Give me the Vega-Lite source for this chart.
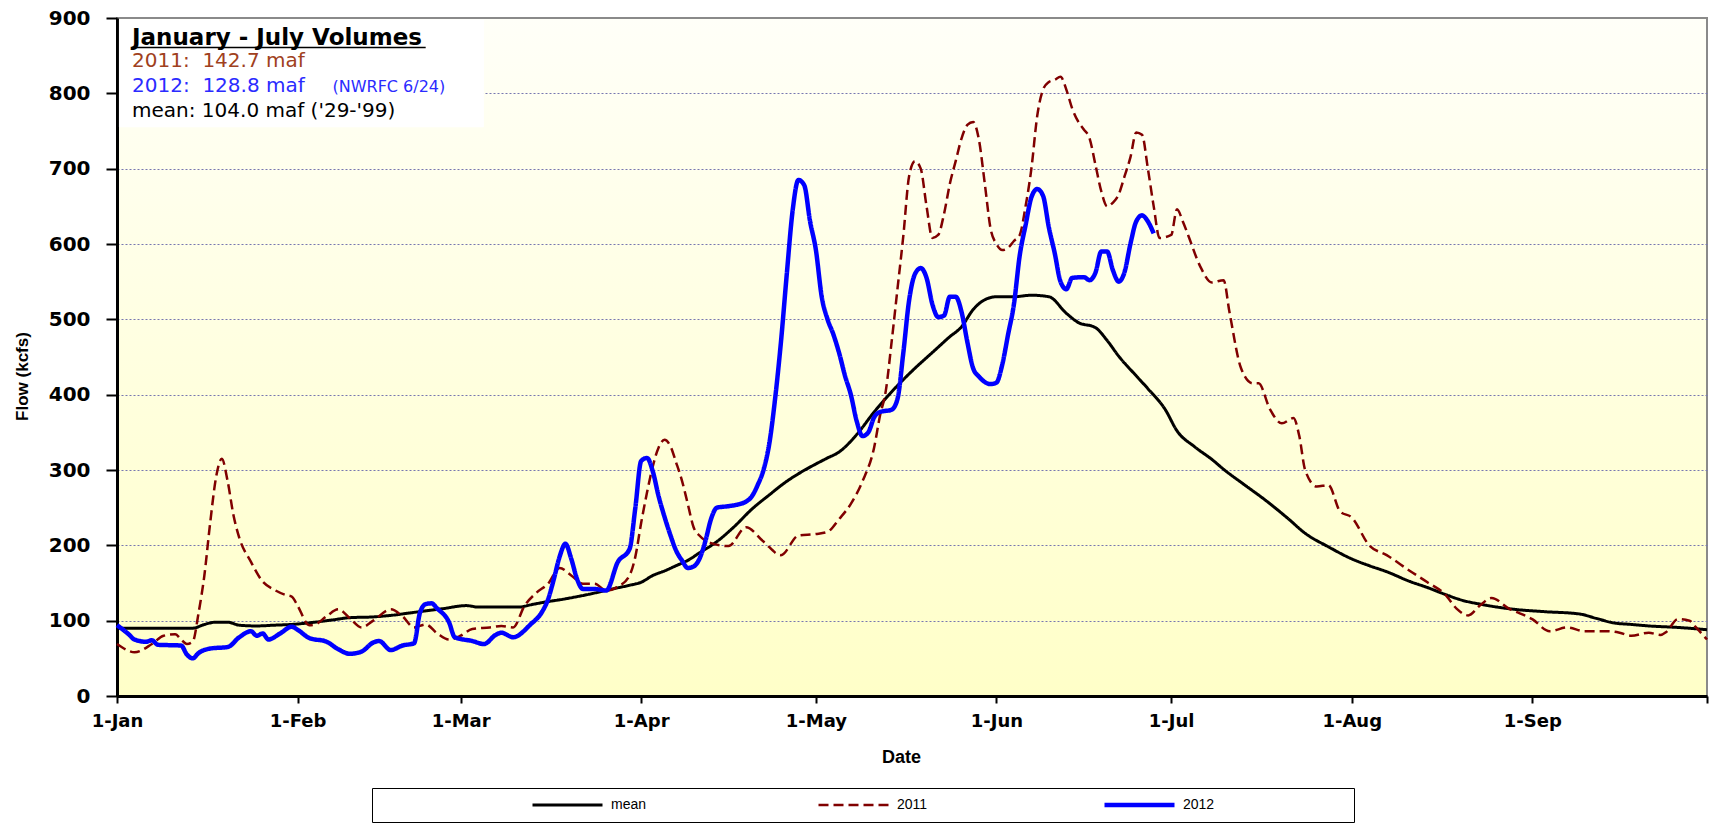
{
  "$schema": "https://vega.github.io/schema/vega-lite/v6.json",
  "width": 1590,
  "height": 678,
  "autosize": {"type": "none"},
  "padding": {"left": 117, "top": 18, "right": 6, "bottom": 129},
  "background": "white",
  "config": {
    "view": {
      "fill": {"gradient": "linear", "x1": 0, "y1": 0, "x2": 0, "y2": 1, "stops": [{"offset": 0, "color": "#fffff8"}, {"offset": 1, "color": "#ffffc8"}]},
      "stroke": "#8a8a8a",
      "strokeWidth": 2
    },
    "font": "DejaVu Sans"
  },
  "datasets": {
    "flows": [
      {"date": "2011-01-01", "series": "mean", "flow": 90},
      {"date": "2011-01-04", "series": "mean", "flow": 90},
      {"date": "2011-01-07", "series": "mean", "flow": 90},
      {"date": "2011-01-11", "series": "mean", "flow": 90},
      {"date": "2011-01-14", "series": "mean", "flow": 90},
      {"date": "2011-01-16", "series": "mean", "flow": 95},
      {"date": "2011-01-18", "series": "mean", "flow": 98},
      {"date": "2011-01-20", "series": "mean", "flow": 98},
      {"date": "2011-01-22", "series": "mean", "flow": 94},
      {"date": "2011-01-25", "series": "mean", "flow": 93},
      {"date": "2011-01-28", "series": "mean", "flow": 94},
      {"date": "2011-01-31", "series": "mean", "flow": 95},
      {"date": "2011-02-04", "series": "mean", "flow": 98},
      {"date": "2011-02-07", "series": "mean", "flow": 101},
      {"date": "2011-02-10", "series": "mean", "flow": 104},
      {"date": "2011-02-14", "series": "mean", "flow": 105},
      {"date": "2011-02-17", "series": "mean", "flow": 107},
      {"date": "2011-02-21", "series": "mean", "flow": 111},
      {"date": "2011-02-24", "series": "mean", "flow": 114},
      {"date": "2011-02-26", "series": "mean", "flow": 116},
      {"date": "2011-03-02", "series": "mean", "flow": 120},
      {"date": "2011-03-04", "series": "mean", "flow": 118},
      {"date": "2011-03-08", "series": "mean", "flow": 118},
      {"date": "2011-03-11", "series": "mean", "flow": 118},
      {"date": "2011-03-13", "series": "mean", "flow": 121},
      {"date": "2011-03-15", "series": "mean", "flow": 124},
      {"date": "2011-03-19", "series": "mean", "flow": 129},
      {"date": "2011-03-23", "series": "mean", "flow": 135},
      {"date": "2011-03-27", "series": "mean", "flow": 142},
      {"date": "2011-03-30", "series": "mean", "flow": 147},
      {"date": "2011-04-01", "series": "mean", "flow": 151},
      {"date": "2011-04-03", "series": "mean", "flow": 160},
      {"date": "2011-04-05", "series": "mean", "flow": 166},
      {"date": "2011-04-07", "series": "mean", "flow": 173},
      {"date": "2011-04-09", "series": "mean", "flow": 180},
      {"date": "2011-04-11", "series": "mean", "flow": 190},
      {"date": "2011-04-14", "series": "mean", "flow": 205},
      {"date": "2011-04-17", "series": "mean", "flow": 225},
      {"date": "2011-04-20", "series": "mean", "flow": 248},
      {"date": "2011-04-23", "series": "mean", "flow": 267},
      {"date": "2011-04-26", "series": "mean", "flow": 285},
      {"date": "2011-04-28", "series": "mean", "flow": 295},
      {"date": "2011-05-01", "series": "mean", "flow": 308},
      {"date": "2011-05-03", "series": "mean", "flow": 316},
      {"date": "2011-05-05", "series": "mean", "flow": 324},
      {"date": "2011-05-08", "series": "mean", "flow": 347},
      {"date": "2011-05-11", "series": "mean", "flow": 377},
      {"date": "2011-05-15", "series": "mean", "flow": 412},
      {"date": "2011-05-18", "series": "mean", "flow": 435},
      {"date": "2011-05-21", "series": "mean", "flow": 456},
      {"date": "2011-05-24", "series": "mean", "flow": 477},
      {"date": "2011-05-26", "series": "mean", "flow": 490},
      {"date": "2011-05-28", "series": "mean", "flow": 513},
      {"date": "2011-05-30", "series": "mean", "flow": 526},
      {"date": "2011-06-01", "series": "mean", "flow": 530},
      {"date": "2011-06-04", "series": "mean", "flow": 530},
      {"date": "2011-06-07", "series": "mean", "flow": 532},
      {"date": "2011-06-10", "series": "mean", "flow": 530},
      {"date": "2011-06-13", "series": "mean", "flow": 508},
      {"date": "2011-06-15", "series": "mean", "flow": 496},
      {"date": "2011-06-18", "series": "mean", "flow": 489},
      {"date": "2011-06-20", "series": "mean", "flow": 472},
      {"date": "2011-06-22", "series": "mean", "flow": 451},
      {"date": "2011-06-25", "series": "mean", "flow": 425},
      {"date": "2011-06-27", "series": "mean", "flow": 408},
      {"date": "2011-06-30", "series": "mean", "flow": 380},
      {"date": "2011-07-02", "series": "mean", "flow": 352},
      {"date": "2011-07-05", "series": "mean", "flow": 331},
      {"date": "2011-07-08", "series": "mean", "flow": 314},
      {"date": "2011-07-10", "series": "mean", "flow": 301},
      {"date": "2011-07-14", "series": "mean", "flow": 278},
      {"date": "2011-07-17", "series": "mean", "flow": 261},
      {"date": "2011-07-21", "series": "mean", "flow": 236},
      {"date": "2011-07-24", "series": "mean", "flow": 216},
      {"date": "2011-07-28", "series": "mean", "flow": 198},
      {"date": "2011-08-01", "series": "mean", "flow": 182},
      {"date": "2011-08-04", "series": "mean", "flow": 173},
      {"date": "2011-08-07", "series": "mean", "flow": 165},
      {"date": "2011-08-11", "series": "mean", "flow": 152},
      {"date": "2011-08-14", "series": "mean", "flow": 144},
      {"date": "2011-08-17", "series": "mean", "flow": 135},
      {"date": "2011-08-20", "series": "mean", "flow": 127},
      {"date": "2011-08-23", "series": "mean", "flow": 122},
      {"date": "2011-08-26", "series": "mean", "flow": 118},
      {"date": "2011-08-29", "series": "mean", "flow": 115},
      {"date": "2011-09-03", "series": "mean", "flow": 112},
      {"date": "2011-09-09", "series": "mean", "flow": 109},
      {"date": "2011-09-12", "series": "mean", "flow": 103},
      {"date": "2011-09-15", "series": "mean", "flow": 97},
      {"date": "2011-09-18", "series": "mean", "flow": 95},
      {"date": "2011-09-21", "series": "mean", "flow": 93},
      {"date": "2011-09-26", "series": "mean", "flow": 91},
      {"date": "2011-10-01", "series": "mean", "flow": 88},

      {"date": "2011-01-01", "series": "2011", "flow": 69},
      {"date": "2011-01-03", "series": "2011", "flow": 60},
      {"date": "2011-01-04", "series": "2011", "flow": 58},
      {"date": "2011-01-07", "series": "2011", "flow": 69},
      {"date": "2011-01-09", "series": "2011", "flow": 80},
      {"date": "2011-01-11", "series": "2011", "flow": 82},
      {"date": "2011-01-12", "series": "2011", "flow": 75},
      {"date": "2011-01-13", "series": "2011", "flow": 69},
      {"date": "2011-01-14", "series": "2011", "flow": 72},
      {"date": "2011-01-15", "series": "2011", "flow": 110},
      {"date": "2011-01-16", "series": "2011", "flow": 160},
      {"date": "2011-01-17", "series": "2011", "flow": 230},
      {"date": "2011-01-18", "series": "2011", "flow": 290},
      {"date": "2011-01-19", "series": "2011", "flow": 315},
      {"date": "2011-01-20", "series": "2011", "flow": 285},
      {"date": "2011-01-21", "series": "2011", "flow": 240},
      {"date": "2011-01-22", "series": "2011", "flow": 210},
      {"date": "2011-01-24", "series": "2011", "flow": 178},
      {"date": "2011-01-26", "series": "2011", "flow": 152},
      {"date": "2011-01-28", "series": "2011", "flow": 141},
      {"date": "2011-01-30", "series": "2011", "flow": 134},
      {"date": "2011-01-31", "series": "2011", "flow": 132},
      {"date": "2011-02-01", "series": "2011", "flow": 120},
      {"date": "2011-02-03", "series": "2011", "flow": 94},
      {"date": "2011-02-04", "series": "2011", "flow": 95},
      {"date": "2011-02-06", "series": "2011", "flow": 106},
      {"date": "2011-02-08", "series": "2011", "flow": 115},
      {"date": "2011-02-10", "series": "2011", "flow": 103},
      {"date": "2011-02-12", "series": "2011", "flow": 91},
      {"date": "2011-02-14", "series": "2011", "flow": 100},
      {"date": "2011-02-17", "series": "2011", "flow": 115},
      {"date": "2011-02-19", "series": "2011", "flow": 106},
      {"date": "2011-02-21", "series": "2011", "flow": 91},
      {"date": "2011-02-23", "series": "2011", "flow": 95},
      {"date": "2011-02-25", "series": "2011", "flow": 83},
      {"date": "2011-02-27", "series": "2011", "flow": 75},
      {"date": "2011-03-01", "series": "2011", "flow": 80},
      {"date": "2011-03-03", "series": "2011", "flow": 89},
      {"date": "2011-03-06", "series": "2011", "flow": 91},
      {"date": "2011-03-08", "series": "2011", "flow": 93},
      {"date": "2011-03-10", "series": "2011", "flow": 91},
      {"date": "2011-03-12", "series": "2011", "flow": 120},
      {"date": "2011-03-14", "series": "2011", "flow": 137},
      {"date": "2011-03-16", "series": "2011", "flow": 149},
      {"date": "2011-03-18", "series": "2011", "flow": 170},
      {"date": "2011-03-20", "series": "2011", "flow": 160},
      {"date": "2011-03-22", "series": "2011", "flow": 149},
      {"date": "2011-03-24", "series": "2011", "flow": 149},
      {"date": "2011-03-26", "series": "2011", "flow": 140},
      {"date": "2011-03-28", "series": "2011", "flow": 145},
      {"date": "2011-03-30", "series": "2011", "flow": 160},
      {"date": "2011-03-31", "series": "2011", "flow": 185},
      {"date": "2011-04-01", "series": "2011", "flow": 230},
      {"date": "2011-04-02", "series": "2011", "flow": 270},
      {"date": "2011-04-03", "series": "2011", "flow": 305},
      {"date": "2011-04-04", "series": "2011", "flow": 330},
      {"date": "2011-04-05", "series": "2011", "flow": 340},
      {"date": "2011-04-06", "series": "2011", "flow": 332},
      {"date": "2011-04-07", "series": "2011", "flow": 310},
      {"date": "2011-04-08", "series": "2011", "flow": 286},
      {"date": "2011-04-09", "series": "2011", "flow": 255},
      {"date": "2011-04-10", "series": "2011", "flow": 224},
      {"date": "2011-04-11", "series": "2011", "flow": 213},
      {"date": "2011-04-13", "series": "2011", "flow": 203},
      {"date": "2011-04-16", "series": "2011", "flow": 199},
      {"date": "2011-04-19", "series": "2011", "flow": 224},
      {"date": "2011-04-22", "series": "2011", "flow": 205},
      {"date": "2011-04-25", "series": "2011", "flow": 187},
      {"date": "2011-04-28", "series": "2011", "flow": 213},
      {"date": "2011-05-01", "series": "2011", "flow": 215},
      {"date": "2011-05-03", "series": "2011", "flow": 218},
      {"date": "2011-05-05", "series": "2011", "flow": 235},
      {"date": "2011-05-07", "series": "2011", "flow": 255},
      {"date": "2011-05-09", "series": "2011", "flow": 285},
      {"date": "2011-05-11", "series": "2011", "flow": 330},
      {"date": "2011-05-12", "series": "2011", "flow": 372},
      {"date": "2011-05-13", "series": "2011", "flow": 405},
      {"date": "2011-05-14", "series": "2011", "flow": 470},
      {"date": "2011-05-15", "series": "2011", "flow": 540},
      {"date": "2011-05-16", "series": "2011", "flow": 610},
      {"date": "2011-05-17", "series": "2011", "flow": 690},
      {"date": "2011-05-18", "series": "2011", "flow": 710},
      {"date": "2011-05-19", "series": "2011", "flow": 700},
      {"date": "2011-05-20", "series": "2011", "flow": 650},
      {"date": "2011-05-21", "series": "2011", "flow": 608},
      {"date": "2011-05-22", "series": "2011", "flow": 612},
      {"date": "2011-05-23", "series": "2011", "flow": 640},
      {"date": "2011-05-24", "series": "2011", "flow": 680},
      {"date": "2011-05-25", "series": "2011", "flow": 710},
      {"date": "2011-05-26", "series": "2011", "flow": 740},
      {"date": "2011-05-27", "series": "2011", "flow": 758},
      {"date": "2011-05-28", "series": "2011", "flow": 762},
      {"date": "2011-05-29", "series": "2011", "flow": 738},
      {"date": "2011-05-30", "series": "2011", "flow": 680},
      {"date": "2011-05-31", "series": "2011", "flow": 620},
      {"date": "2011-06-01", "series": "2011", "flow": 600},
      {"date": "2011-06-02", "series": "2011", "flow": 592},
      {"date": "2011-06-03", "series": "2011", "flow": 595},
      {"date": "2011-06-04", "series": "2011", "flow": 604},
      {"date": "2011-06-05", "series": "2011", "flow": 612},
      {"date": "2011-06-06", "series": "2011", "flow": 650},
      {"date": "2011-06-07", "series": "2011", "flow": 700},
      {"date": "2011-06-08", "series": "2011", "flow": 770},
      {"date": "2011-06-09", "series": "2011", "flow": 805},
      {"date": "2011-06-10", "series": "2011", "flow": 815},
      {"date": "2011-06-11", "series": "2011", "flow": 818},
      {"date": "2011-06-12", "series": "2011", "flow": 822},
      {"date": "2011-06-13", "series": "2011", "flow": 805},
      {"date": "2011-06-14", "series": "2011", "flow": 780},
      {"date": "2011-06-15", "series": "2011", "flow": 763},
      {"date": "2011-06-16", "series": "2011", "flow": 752},
      {"date": "2011-06-17", "series": "2011", "flow": 740},
      {"date": "2011-06-18", "series": "2011", "flow": 705},
      {"date": "2011-06-19", "series": "2011", "flow": 670},
      {"date": "2011-06-20", "series": "2011", "flow": 650},
      {"date": "2011-06-21", "series": "2011", "flow": 655},
      {"date": "2011-06-22", "series": "2011", "flow": 666},
      {"date": "2011-06-23", "series": "2011", "flow": 690},
      {"date": "2011-06-24", "series": "2011", "flow": 715},
      {"date": "2011-06-25", "series": "2011", "flow": 748},
      {"date": "2011-06-26", "series": "2011", "flow": 745},
      {"date": "2011-06-27", "series": "2011", "flow": 700},
      {"date": "2011-06-28", "series": "2011", "flow": 650},
      {"date": "2011-06-29", "series": "2011", "flow": 608},
      {"date": "2011-07-01", "series": "2011", "flow": 612},
      {"date": "2011-07-02", "series": "2011", "flow": 646},
      {"date": "2011-07-03", "series": "2011", "flow": 630},
      {"date": "2011-07-04", "series": "2011", "flow": 610},
      {"date": "2011-07-06", "series": "2011", "flow": 570},
      {"date": "2011-07-08", "series": "2011", "flow": 549},
      {"date": "2011-07-10", "series": "2011", "flow": 552},
      {"date": "2011-07-11", "series": "2011", "flow": 510},
      {"date": "2011-07-13", "series": "2011", "flow": 435},
      {"date": "2011-07-15", "series": "2011", "flow": 415},
      {"date": "2011-07-16", "series": "2011", "flow": 415},
      {"date": "2011-07-18", "series": "2011", "flow": 380},
      {"date": "2011-07-20", "series": "2011", "flow": 362},
      {"date": "2011-07-22", "series": "2011", "flow": 369},
      {"date": "2011-07-23", "series": "2011", "flow": 345},
      {"date": "2011-07-24", "series": "2011", "flow": 300},
      {"date": "2011-07-26", "series": "2011", "flow": 278},
      {"date": "2011-07-28", "series": "2011", "flow": 280},
      {"date": "2011-07-30", "series": "2011", "flow": 245},
      {"date": "2011-08-01", "series": "2011", "flow": 237},
      {"date": "2011-08-04", "series": "2011", "flow": 200},
      {"date": "2011-08-07", "series": "2011", "flow": 187},
      {"date": "2011-08-11", "series": "2011", "flow": 166},
      {"date": "2011-08-14", "series": "2011", "flow": 151},
      {"date": "2011-08-17", "series": "2011", "flow": 135},
      {"date": "2011-08-19", "series": "2011", "flow": 116},
      {"date": "2011-08-21", "series": "2011", "flow": 107},
      {"date": "2011-08-23", "series": "2011", "flow": 120},
      {"date": "2011-08-25", "series": "2011", "flow": 130},
      {"date": "2011-08-28", "series": "2011", "flow": 116},
      {"date": "2011-09-01", "series": "2011", "flow": 102},
      {"date": "2011-09-04", "series": "2011", "flow": 86},
      {"date": "2011-09-07", "series": "2011", "flow": 91},
      {"date": "2011-09-10", "series": "2011", "flow": 86},
      {"date": "2011-09-14", "series": "2011", "flow": 86},
      {"date": "2011-09-16", "series": "2011", "flow": 84},
      {"date": "2011-09-18", "series": "2011", "flow": 80},
      {"date": "2011-09-21", "series": "2011", "flow": 84},
      {"date": "2011-09-23", "series": "2011", "flow": 81},
      {"date": "2011-09-24", "series": "2011", "flow": 85},
      {"date": "2011-09-26", "series": "2011", "flow": 102},
      {"date": "2011-09-28", "series": "2011", "flow": 100},
      {"date": "2011-09-29", "series": "2011", "flow": 92},
      {"date": "2011-10-01", "series": "2011", "flow": 75},

      {"date": "2011-01-01", "series": "2012", "flow": 94},
      {"date": "2011-01-03", "series": "2012", "flow": 82},
      {"date": "2011-01-04", "series": "2012", "flow": 75},
      {"date": "2011-01-06", "series": "2012", "flow": 72},
      {"date": "2011-01-07", "series": "2012", "flow": 74},
      {"date": "2011-01-08", "series": "2012", "flow": 68},
      {"date": "2011-01-12", "series": "2012", "flow": 67},
      {"date": "2011-01-13", "series": "2012", "flow": 55},
      {"date": "2011-01-14", "series": "2012", "flow": 50},
      {"date": "2011-01-15", "series": "2012", "flow": 57},
      {"date": "2011-01-17", "series": "2012", "flow": 63},
      {"date": "2011-01-20", "series": "2012", "flow": 65},
      {"date": "2011-01-22", "series": "2012", "flow": 78},
      {"date": "2011-01-24", "series": "2012", "flow": 86},
      {"date": "2011-01-25", "series": "2012", "flow": 80},
      {"date": "2011-01-26", "series": "2012", "flow": 83},
      {"date": "2011-01-27", "series": "2012", "flow": 75},
      {"date": "2011-01-29", "series": "2012", "flow": 83},
      {"date": "2011-01-31", "series": "2012", "flow": 92},
      {"date": "2011-02-01", "series": "2012", "flow": 88},
      {"date": "2011-02-03", "series": "2012", "flow": 77},
      {"date": "2011-02-06", "series": "2012", "flow": 72},
      {"date": "2011-02-08", "series": "2012", "flow": 62},
      {"date": "2011-02-10", "series": "2012", "flow": 56},
      {"date": "2011-02-12", "series": "2012", "flow": 59},
      {"date": "2011-02-14", "series": "2012", "flow": 71},
      {"date": "2011-02-15", "series": "2012", "flow": 73},
      {"date": "2011-02-17", "series": "2012", "flow": 61},
      {"date": "2011-02-19", "series": "2012", "flow": 67},
      {"date": "2011-02-21", "series": "2012", "flow": 70},
      {"date": "2011-02-22", "series": "2012", "flow": 110},
      {"date": "2011-02-23", "series": "2012", "flow": 122},
      {"date": "2011-02-24", "series": "2012", "flow": 123},
      {"date": "2011-02-25", "series": "2012", "flow": 116},
      {"date": "2011-02-27", "series": "2012", "flow": 98},
      {"date": "2011-02-28", "series": "2012", "flow": 78},
      {"date": "2011-03-03", "series": "2012", "flow": 73},
      {"date": "2011-03-05", "series": "2012", "flow": 69},
      {"date": "2011-03-07", "series": "2012", "flow": 81},
      {"date": "2011-03-08", "series": "2012", "flow": 84},
      {"date": "2011-03-10", "series": "2012", "flow": 78},
      {"date": "2011-03-13", "series": "2012", "flow": 95},
      {"date": "2011-03-15", "series": "2012", "flow": 112},
      {"date": "2011-03-16", "series": "2012", "flow": 128},
      {"date": "2011-03-17", "series": "2012", "flow": 155},
      {"date": "2011-03-18", "series": "2012", "flow": 185},
      {"date": "2011-03-19", "series": "2012", "flow": 202},
      {"date": "2011-03-20", "series": "2012", "flow": 182},
      {"date": "2011-03-21", "series": "2012", "flow": 155},
      {"date": "2011-03-22", "series": "2012", "flow": 142},
      {"date": "2011-03-24", "series": "2012", "flow": 142},
      {"date": "2011-03-26", "series": "2012", "flow": 140},
      {"date": "2011-03-28", "series": "2012", "flow": 178},
      {"date": "2011-03-30", "series": "2012", "flow": 195},
      {"date": "2011-03-31", "series": "2012", "flow": 250},
      {"date": "2011-04-01", "series": "2012", "flow": 312},
      {"date": "2011-04-02", "series": "2012", "flow": 316},
      {"date": "2011-04-03", "series": "2012", "flow": 298},
      {"date": "2011-04-04", "series": "2012", "flow": 265},
      {"date": "2011-04-05", "series": "2012", "flow": 238},
      {"date": "2011-04-06", "series": "2012", "flow": 214},
      {"date": "2011-04-07", "series": "2012", "flow": 193},
      {"date": "2011-04-08", "series": "2012", "flow": 180},
      {"date": "2011-04-09", "series": "2012", "flow": 170},
      {"date": "2011-04-10", "series": "2012", "flow": 172},
      {"date": "2011-04-11", "series": "2012", "flow": 182},
      {"date": "2011-04-12", "series": "2012", "flow": 205},
      {"date": "2011-04-13", "series": "2012", "flow": 235},
      {"date": "2011-04-14", "series": "2012", "flow": 250},
      {"date": "2011-04-16", "series": "2012", "flow": 252},
      {"date": "2011-04-18", "series": "2012", "flow": 255},
      {"date": "2011-04-19", "series": "2012", "flow": 258},
      {"date": "2011-04-20", "series": "2012", "flow": 265},
      {"date": "2011-04-21", "series": "2012", "flow": 280},
      {"date": "2011-04-22", "series": "2012", "flow": 300},
      {"date": "2011-04-23", "series": "2012", "flow": 335},
      {"date": "2011-04-24", "series": "2012", "flow": 395},
      {"date": "2011-04-25", "series": "2012", "flow": 470},
      {"date": "2011-04-26", "series": "2012", "flow": 560},
      {"date": "2011-04-27", "series": "2012", "flow": 644},
      {"date": "2011-04-28", "series": "2012", "flow": 685},
      {"date": "2011-04-29", "series": "2012", "flow": 678},
      {"date": "2011-04-30", "series": "2012", "flow": 630},
      {"date": "2011-05-01", "series": "2012", "flow": 592},
      {"date": "2011-05-02", "series": "2012", "flow": 530},
      {"date": "2011-05-03", "series": "2012", "flow": 500},
      {"date": "2011-05-04", "series": "2012", "flow": 480},
      {"date": "2011-05-05", "series": "2012", "flow": 455},
      {"date": "2011-05-06", "series": "2012", "flow": 425},
      {"date": "2011-05-07", "series": "2012", "flow": 400},
      {"date": "2011-05-08", "series": "2012", "flow": 365},
      {"date": "2011-05-09", "series": "2012", "flow": 345},
      {"date": "2011-05-10", "series": "2012", "flow": 350},
      {"date": "2011-05-11", "series": "2012", "flow": 370},
      {"date": "2011-05-12", "series": "2012", "flow": 377},
      {"date": "2011-05-14", "series": "2012", "flow": 380},
      {"date": "2011-05-15", "series": "2012", "flow": 394},
      {"date": "2011-05-16", "series": "2012", "flow": 455},
      {"date": "2011-05-17", "series": "2012", "flow": 525},
      {"date": "2011-05-18", "series": "2012", "flow": 560},
      {"date": "2011-05-19", "series": "2012", "flow": 568},
      {"date": "2011-05-20", "series": "2012", "flow": 555},
      {"date": "2011-05-21", "series": "2012", "flow": 520},
      {"date": "2011-05-22", "series": "2012", "flow": 503},
      {"date": "2011-05-23", "series": "2012", "flow": 505},
      {"date": "2011-05-24", "series": "2012", "flow": 530},
      {"date": "2011-05-25", "series": "2012", "flow": 530},
      {"date": "2011-05-26", "series": "2012", "flow": 510},
      {"date": "2011-05-27", "series": "2012", "flow": 470},
      {"date": "2011-05-28", "series": "2012", "flow": 435},
      {"date": "2011-05-29", "series": "2012", "flow": 424},
      {"date": "2011-05-31", "series": "2012", "flow": 414},
      {"date": "2011-06-01", "series": "2012", "flow": 416},
      {"date": "2011-06-02", "series": "2012", "flow": 440},
      {"date": "2011-06-03", "series": "2012", "flow": 480},
      {"date": "2011-06-04", "series": "2012", "flow": 520},
      {"date": "2011-06-05", "series": "2012", "flow": 585},
      {"date": "2011-06-06", "series": "2012", "flow": 625},
      {"date": "2011-06-07", "series": "2012", "flow": 662},
      {"date": "2011-06-08", "series": "2012", "flow": 673},
      {"date": "2011-06-09", "series": "2012", "flow": 664},
      {"date": "2011-06-10", "series": "2012", "flow": 622},
      {"date": "2011-06-11", "series": "2012", "flow": 588},
      {"date": "2011-06-12", "series": "2012", "flow": 550},
      {"date": "2011-06-13", "series": "2012", "flow": 540},
      {"date": "2011-06-14", "series": "2012", "flow": 555},
      {"date": "2011-06-16", "series": "2012", "flow": 556},
      {"date": "2011-06-17", "series": "2012", "flow": 552},
      {"date": "2011-06-18", "series": "2012", "flow": 562},
      {"date": "2011-06-19", "series": "2012", "flow": 590},
      {"date": "2011-06-20", "series": "2012", "flow": 590},
      {"date": "2011-06-21", "series": "2012", "flow": 565},
      {"date": "2011-06-22", "series": "2012", "flow": 550},
      {"date": "2011-06-23", "series": "2012", "flow": 563},
      {"date": "2011-06-24", "series": "2012", "flow": 600},
      {"date": "2011-06-25", "series": "2012", "flow": 630},
      {"date": "2011-06-26", "series": "2012", "flow": 638},
      {"date": "2011-06-27", "series": "2012", "flow": 630},
      {"date": "2011-06-28", "series": "2012", "flow": 614}
    ]
  },
  "layer": [
    {
      "data": {"name": "flows"},
      "mark": {"type": "line", "interpolate": "monotone", "strokeJoin": "round"},
      "encoding": {
        "x": {
          "field": "date",
          "type": "temporal",
          "scale": {"type": "utc", "nice": false, "domain": [{"year": 2011, "month": 1, "date": 1, "utc": true}, {"year": 2011, "month": 10, "date": 1, "utc": true}]},
          "axis": {
            "values": [
              {"year": 2011, "month": 1, "date": 1, "utc": true},
              {"year": 2011, "month": 2, "date": 1, "utc": true},
              {"year": 2011, "month": 3, "date": 1, "utc": true},
              {"year": 2011, "month": 4, "date": 1, "utc": true},
              {"year": 2011, "month": 5, "date": 1, "utc": true},
              {"year": 2011, "month": 6, "date": 1, "utc": true},
              {"year": 2011, "month": 7, "date": 1, "utc": true},
              {"year": 2011, "month": 8, "date": 1, "utc": true},
              {"year": 2011, "month": 9, "date": 1, "utc": true},
              {"year": 2011, "month": 10, "date": 1, "utc": true}
            ],
            "labelExpr": "utcmonth(datum.value) == 9 ? '' : utcFormat(datum.value, '%-d-%b')",
            "title": "Date",
            "titleFont": "Liberation Sans",
            "titleFontSize": 18,
            "titleFontWeight": "bold",
            "titleColor": "#000000",
            "titleX": 784,
            "titleY": 61,
            "titleBaseline": "middle",
            "labelFont": "DejaVu Sans",
            "labelFontSize": 18,
            "labelFontWeight": "bold",
            "labelColor": "#000000",
            "labelPadding": 9,
            "labelOverlap": false,
            "labelFlush": false,
            "tickSize": 7,
            "tickWidth": 2,
            "tickColor": "#000000",
            "domainColor": "#000000",
            "domainWidth": 3,
            "grid": false
          }
        },
        "y": {
          "field": "flow",
          "type": "quantitative",
          "scale": {"domain": [0, 900], "nice": false},
          "axis": {
            "values": [0, 100, 200, 300, 400, 500, 600, 700, 800, 900],
            "title": "Flow (kcfs)",
            "titleFont": "Liberation Sans",
            "titleFontSize": 17,
            "titleFontWeight": "bold",
            "titleColor": "#000000",
            "titleX": -95,
            "titleY": 358,
            "titleAngle": -90,
            "titleAlign": "center",
            "titleBaseline": "middle",
            "labelFont": "DejaVu Sans",
            "labelFontSize": 20,
            "labelFontWeight": "bold",
            "labelColor": "#000000",
            "labelPadding": 16,
            "tickSize": 11,
            "tickWidth": 2,
            "tickColor": "#000000",
            "domainColor": "#000000",
            "domainWidth": 3,
            "grid": true,
            "gridColor": "#7777b0",
            "gridDash": [2, 2],
            "gridWidth": 1,
            "gridOpacity": {"condition": {"test": "datum.value == 0 || datum.value == 900", "value": 0}, "value": 1}
          }
        },
        "color": {
          "field": "series",
          "type": "nominal",
          "scale": {"domain": ["mean", "2011", "2012"], "range": ["#000000", "#800000", "#0000ff"]},
          "legend": {"title": "\u00a0", "titleOrient": "right", "titlePadding": 131, "titleFontSize": 10, "orient": "none", "legendX": 255, "legendY": 770, "direction": "horizontal", "columns": 3, "symbolType": "stroke", "symbolSize": 4900, "symbolOffset": 149, "clipHeight": 16, "columnPadding": 20, "gridAlign": "all", "padding": 9, "strokeColor": "#000000", "fillColor": "#ffffff", "labelFont": "Liberation Sans", "labelFontSize": 14, "labelColor": "#000000", "labelOffset": 6}
        },
        "strokeDash": {
          "field": "series",
          "type": "nominal",
          "scale": {"domain": ["mean", "2011", "2012"], "range": [[1, 0], [10, 5], [1, 0]]},
          "legend": {"title": "\u00a0", "titleOrient": "right", "titlePadding": 131, "titleFontSize": 10, "orient": "none", "legendX": 255, "legendY": 770, "direction": "horizontal", "columns": 3, "symbolType": "stroke", "symbolSize": 4900, "symbolOffset": 149, "clipHeight": 16, "columnPadding": 20, "gridAlign": "all", "padding": 9, "strokeColor": "#000000", "fillColor": "#ffffff", "labelFont": "Liberation Sans", "labelFontSize": 14, "labelColor": "#000000", "labelOffset": 6}
        },
        "strokeWidth": {
          "field": "series",
          "type": "nominal",
          "scale": {"type": "ordinal", "domain": ["mean", "2011", "2012"], "range": [3, 2.5, 4.5]},
          "legend": {"title": "\u00a0", "titleOrient": "right", "titlePadding": 131, "titleFontSize": 10, "orient": "none", "legendX": 255, "legendY": 770, "direction": "horizontal", "columns": 3, "symbolType": "stroke", "symbolSize": 4900, "symbolOffset": 149, "clipHeight": 16, "columnPadding": 20, "gridAlign": "all", "padding": 9, "strokeColor": "#000000", "fillColor": "#ffffff", "labelFont": "Liberation Sans", "labelFontSize": 14, "labelColor": "#000000", "labelOffset": 6}
        }
      }
    },
    {
      "data": {"values": [{}]},
      "mark": {"type": "rect", "fill": "#ffffff", "strokeWidth": 0},
      "encoding": {
        "x": {"datum": {"year": 2011, "month": 1, "date": 1, "hours": 8, "utc": true}, "type": "temporal"},
        "x2": {"datum": {"year": 2011, "month": 3, "date": 5, "utc": true}},
        "y": {"datum": 898, "type": "quantitative"},
        "y2": {"datum": 755}
      }
    },
    {
      "data": {"values": [{}]},
      "mark": {"type": "text", "text": "January - July Volumes", "align": "left", "baseline": "alphabetic", "font": "DejaVu Sans", "fontSize": 23, "fontWeight": "bold", "color": "#000000"},
      "encoding": {
        "x": {"datum": {"year": 2011, "month": 1, "date": 3, "hours": 14, "utc": true}, "type": "temporal"},
        "y": {"datum": 864, "type": "quantitative"}
      }
    },
    {
      "data": {"values": [{}]},
      "mark": {"type": "rule", "color": "#000000", "strokeWidth": 1.5},
      "encoding": {
        "x": {"datum": {"year": 2011, "month": 1, "date": 3, "hours": 14, "utc": true}, "type": "temporal"},
        "x2": {"datum": {"year": 2011, "month": 2, "date": 23, "utc": true}},
        "y": {"datum": 861, "type": "quantitative"}
      }
    },
    {
      "data": {"values": [{}]},
      "mark": {"type": "text", "text": "2011:\u00a0 142.7 maf", "align": "left", "baseline": "alphabetic", "font": "DejaVu Sans", "fontSize": 20, "color": "#a04020"},
      "encoding": {
        "x": {"datum": {"year": 2011, "month": 1, "date": 3, "hours": 14, "utc": true}, "type": "temporal"},
        "y": {"datum": 834.6, "type": "quantitative"}
      }
    },
    {
      "data": {"values": [{}]},
      "mark": {"type": "text", "text": "2012:\u00a0 128.8 maf", "align": "left", "baseline": "alphabetic", "font": "DejaVu Sans", "fontSize": 20, "color": "#2b2bff"},
      "encoding": {
        "x": {"datum": {"year": 2011, "month": 1, "date": 3, "hours": 14, "utc": true}, "type": "temporal"},
        "y": {"datum": 801.3, "type": "quantitative"}
      }
    },
    {
      "data": {"values": [{}]},
      "mark": {"type": "text", "text": "(NWRFC 6/24)", "align": "left", "baseline": "alphabetic", "font": "DejaVu Sans", "fontSize": 16, "color": "#2b2bff"},
      "encoding": {
        "x": {"datum": {"year": 2011, "month": 2, "date": 7, "utc": true}, "type": "temporal"},
        "y": {"datum": 801.3, "type": "quantitative"}
      }
    },
    {
      "data": {"values": [{}]},
      "mark": {"type": "text", "text": "mean: 104.0 maf ('29-'99)", "align": "left", "baseline": "alphabetic", "font": "DejaVu Sans", "fontSize": 20, "color": "#000000"},
      "encoding": {
        "x": {"datum": {"year": 2011, "month": 1, "date": 3, "hours": 14, "utc": true}, "type": "temporal"},
        "y": {"datum": 768, "type": "quantitative"}
      }
    }
  ]
}
